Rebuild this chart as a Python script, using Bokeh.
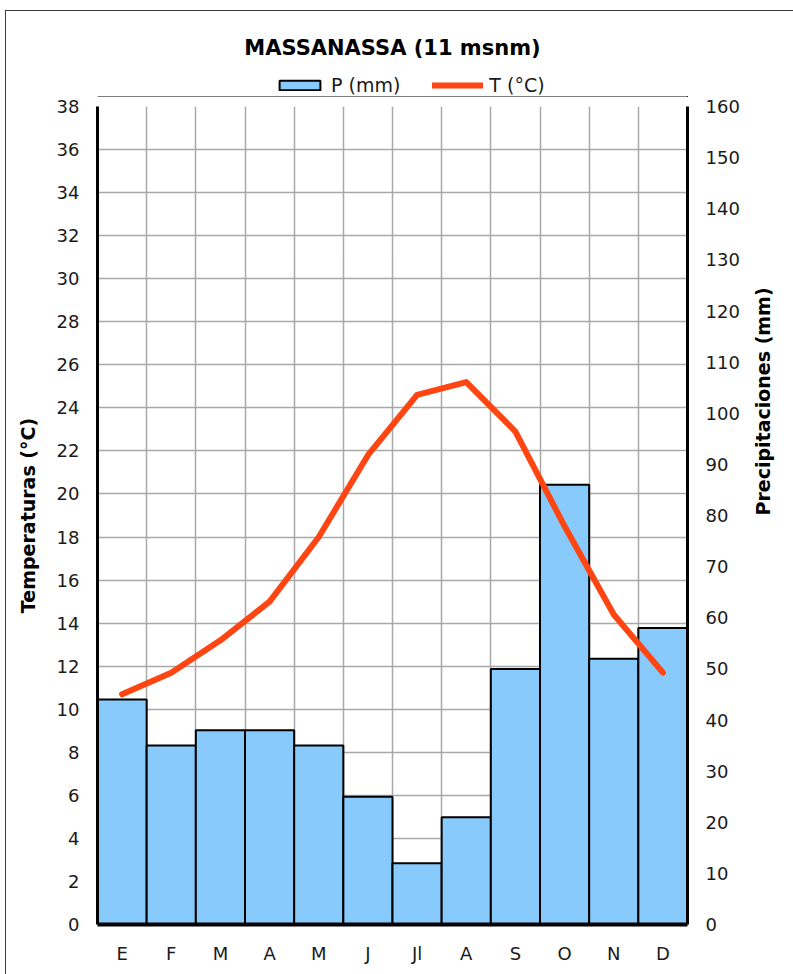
import math
from bokeh.plotting import figure
from bokeh.layouts import column
from bokeh.models import (Range1d, LinearAxis, FixedTicker, ColumnDataSource,
                          Legend, LegendItem, Label)
from bokeh.embed import file_html
from bokeh.resources import INLINE

months = ["E", "F", "M", "A", "M", "J", "Jl", "A", "S", "O", "N", "D"]
precip = [44, 35, 38, 38, 35, 25, 12, 21, 50, 86, 52, 58]
temp = [10.7, 11.7, 13.2, 15.0, 18.0, 21.8, 24.6, 25.2, 22.9, 18.5, 14.4, 11.7]
t_ticks = list(range(0, 39, 2))
p_ticks = list(range(0, 161, 10))
title_text = "MASSANASSA (11 msnm)"

xpos = [i + 0.5 for i in range(len(months))]
src = ColumnDataSource(data=dict(x=xpos, p=precip, t=temp))

FONT = "DejaVu Sans"
TXT = "#1a1a1a"
BAR_FILL = "#87CAFB"
LINE_COL = "#FF4512"
BL, BR = 91, 106

# ---------- header figure: title + legend ----------
# Its ranges lie far outside the data, so its two renderers only feed the legend.
top = figure(width=787, height=86, output_backend="svg", toolbar_location=None,
             x_range=Range1d(0, 1), y_range=Range1d(1000, 1001),
             x_axis_location=None, y_axis_location=None,
             min_border_left=BL, min_border_right=BR, min_border_top=0,
             min_border_bottom=0)
top.outline_line_color = None
top.xgrid.visible = False
top.ygrid.visible = False
leg_bar = top.vbar(x="x", top="p", width=1, source=src, fill_color=BAR_FILL,
                   line_color="#000000", line_width=2)
leg_line = top.line(x="x", y="t", source=src, line_color=LINE_COL, line_width=6,
                    line_cap="round")
top.add_layout(Label(x=295, y=50, x_units="screen", y_units="screen",
                     text=title_text, text_align="center", text_baseline="middle",
                     text_font=FONT, text_font_size="21px",
                     text_font_style="bold", text_color="#000000"))
legend = Legend(items=[LegendItem(label="P (mm)", renderers=[leg_bar]),
                       LegendItem(label="T (°C)", renderers=[leg_line])],
                orientation="horizontal", location=(177, 1),
                glyph_width=51, glyph_height=12, label_standoff=6, spacing=32,
                padding=0, margin=0, border_line_color=None,
                background_fill_alpha=0,
                label_text_font=FONT, label_text_font_size="19px",
                label_text_color=TXT)
top.add_layout(legend, "center")

# ---------- main chart ----------
p = figure(width=787, height=877, output_backend="svg", toolbar_location=None,
           x_range=Range1d(0, len(months)), y_range=Range1d(0, 38),
           min_border_left=BL, min_border_right=BR, min_border_top=9,
           min_border_bottom=50)
p.extra_y_ranges = {"p": Range1d(0, 160)}
p.outline_line_color = None

p.xgrid.ticker = FixedTicker(ticks=list(range(len(months) + 1)))
p.ygrid.ticker = FixedTicker(ticks=t_ticks)
for g in (p.xgrid, p.ygrid):
    g.grid_line_color = "#a8a8a8"
    g.grid_line_width = 1.5

p.vbar(x="x", top="p", width=1.0, source=src, y_range_name="p",
       fill_color=BAR_FILL, line_color="#000000", line_width=2)
p.line(x="x", y="t", source=src, line_color=LINE_COL, line_width=6,
       line_cap="round", line_join="round")

xa = p.xaxis[0]
xa.ticker = FixedTicker(ticks=xpos)
xa.major_label_overrides = {x: m for x, m in zip(xpos, months)}
ya = p.yaxis[0]
ya.ticker = FixedTicker(ticks=t_ticks)
ya.axis_label = "Temperaturas (°C)"
ra = LinearAxis(y_range_name="p", ticker=FixedTicker(ticks=p_ticks),
                axis_label="Precipitaciones (mm)")
p.add_layout(ra, "right")

for ax in (xa, ya, ra):
    ax.axis_line_color = "#000000"
    ax.axis_line_width = 3
    ax.major_tick_in = 0
    ax.major_tick_out = 0
    ax.minor_tick_line_color = None
    ax.major_label_text_font = FONT
    ax.major_label_text_font_size = "18px"
    ax.major_label_text_color = TXT
    ax.major_label_standoff = 18
    ax.axis_label_text_font = FONT
    ax.axis_label_text_font_size = "19px"
    ax.axis_label_text_font_style = "bold"
    ax.axis_label_text_color = "#000000"
    ax.axis_label_standoff = 15
xa.axis_line_width = 4
ra.axis_label_standoff = 20
try:
    ra.axis_label_orientation = math.pi / 2
except Exception:
    pass

layout = column(top, p, spacing=0,
                styles={"border-left": "1px solid #3c3c3c",
                        "border-top": "1px solid #3c3c3c",
                        "margin-left": "5px", "margin-top": "10px"})

open("out.html", "w").write(file_html(layout, INLINE))
